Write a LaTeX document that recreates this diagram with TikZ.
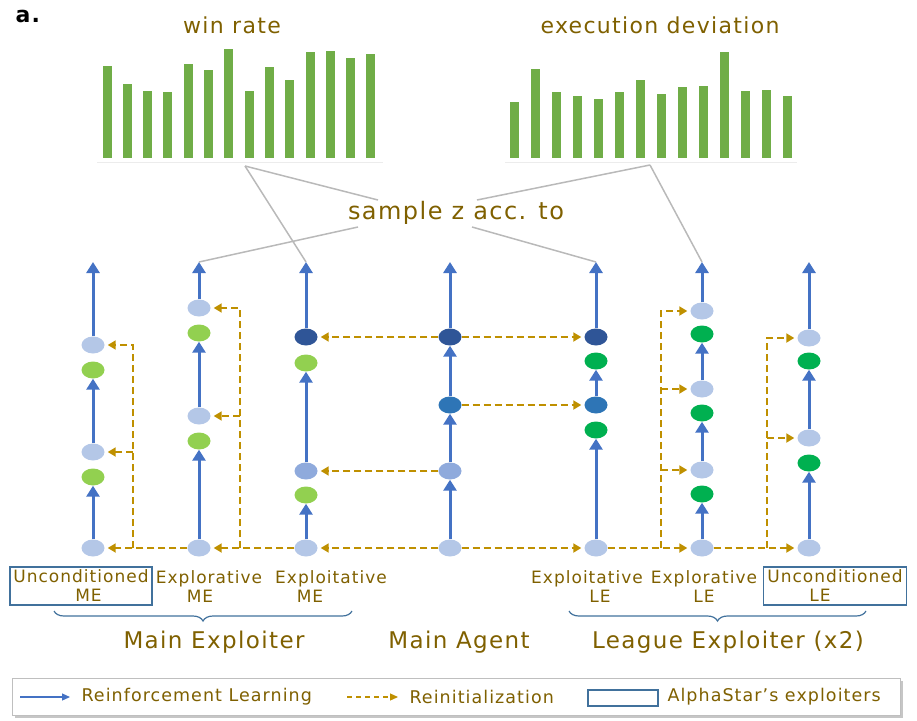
\documentclass[tikz,border=0pt]{standalone}
\usepackage{fontspec}
\setmainfont{DejaVu Sans}[LetterSpace=6]
\usetikzlibrary{shapes.geometric,arrows.meta,decorations.pathreplacing}
\definecolor{rlblue}{HTML}{4472C4}
\definecolor{lblue}{HTML}{B4C7E7}
\definecolor{mblue}{HTML}{8FAADC}
\definecolor{bblue}{HTML}{2E75B6}
\definecolor{dblue}{HTML}{2F5597}
\definecolor{megreen}{HTML}{92D050}
\definecolor{legreen}{HTML}{00B050}
\definecolor{bargreen}{HTML}{70AD47}
\definecolor{gold}{HTML}{BF9000}
\definecolor{txt}{HTML}{7F6000}
\definecolor{boxblue}{HTML}{41719C}

\begin{document}
\begin{tikzpicture}[x=1pt,y=-1pt]
\tikzstyle{every node}=[font=\fontsize{17}{19}\selectfont,text=txt]
\tikzstyle{big}=[font=\fontsize{22}{26}\selectfont]
\tikzstyle{grp}=[font=\fontsize{23}{26}\selectfont]
\tikzstyle{pol}=[ellipse,minimum width=23pt,minimum height=17pt,inner sep=0pt]
\tikzstyle{lb}=[pol,fill=lblue]
\tikzstyle{mb}=[pol,fill=mblue]
\tikzstyle{bb}=[pol,fill=bblue]
\tikzstyle{db}=[pol,fill=dblue]
\tikzstyle{mg}=[pol,fill=megreen]
\tikzstyle{lg}=[pol,fill=legreen]
\tikzstyle{rl}=[rlblue,line width=3pt,-{Triangle[width=13pt,length=11pt]}]
\tikzstyle{ri}=[gold,line width=1.8pt,dash pattern=on 7pt off 4pt,-{Triangle[width=9pt,length=8pt]},shorten >=3pt]
\tikzstyle{link}=[gray!55,line width=1.5pt]
\tikzstyle{brace}=[boxblue,line width=1.2pt,decoration={brace,mirror,amplitude=10pt},decorate]
\tikzstyle{expbox}=[draw=boxblue,line width=1.2pt,align=center,inner sep=1pt]

\useasboundingbox (0,0) rectangle (917,720);

\node[anchor=west,text=black,font=\bfseries\fontsize{22}{26}\selectfont] (lbl) at (12,16) {a.};

% bar charts
\node[big] (wrt) at (232,25) {win rate};
\node[big] (edt) at (660,25) {execution deviation};
\draw[gray!15] (97,162) -- (383,162);
\draw[gray!15] (505,162) -- (797,162);
\foreach \h [count=\i] in {66,84,91,92,64,70,49,91,67,80,52,51,58,54}
  \fill[bargreen] ({102.5+(\i-1)*20.3},158) rectangle ({111.5+(\i-1)*20.3},\h);
\foreach \h [count=\i] in {102,69,92,96,99,92,80,94,87,86,52,91,90,96}
  \fill[bargreen] ({509.5+(\i-1)*21},158) rectangle ({518.5+(\i-1)*21},\h);

\node[font=\fontsize{24}{28}\selectfont] (smp) at (456,213) {sample z acc. to};

% column tops
\coordinate (t1) at (93,262);
\coordinate (t2) at (199,262);
\coordinate (t3) at (306,262);
\coordinate (t4) at (450,262);
\coordinate (t5) at (596,262);
\coordinate (t6) at (702,262);
\coordinate (t7) at (809,262);

\coordinate (wr) at (245,166);
\coordinate (ed) at (650,165);
\coordinate (s1) at (378,200);
\coordinate (s2) at (358,227);
\coordinate (s3) at (477,200);
\coordinate (s4) at (472,227);
\draw[link] (wr) -- (s1);
\draw[link] (wr) -- (t3);
\draw[link] (s2) -- (t2);
\draw[link] (ed) -- (s3);
\draw[link] (ed) -- (t6);
\draw[link] (s4) -- (t5);

% policies
\node[lb] (c1a) at (93,548) {};
\node[mg] (c1b) at (93,477) {};
\node[lb] (c1c) at (93,452) {};
\node[mg] (c1d) at (93,370) {};
\node[lb] (c1e) at (93,345) {};

\node[lb] (c2a) at (199,548) {};
\node[mg] (c2b) at (199,441) {};
\node[lb] (c2c) at (199,416) {};
\node[mg] (c2d) at (199,333) {};
\node[lb] (c2e) at (199,308) {};

\node[lb] (c3a) at (306,548) {};
\node[mg] (c3b) at (306,495) {};
\node[mb] (c3c) at (306,471) {};
\node[mg] (c3d) at (306,363) {};
\node[db] (c3e) at (306,337) {};

\node[lb] (c4a) at (450,548) {};
\node[mb] (c4b) at (450,471) {};
\node[bb] (c4c) at (450,405) {};
\node[db] (c4d) at (450,337) {};

\node[lb] (c5a) at (596,548) {};
\node[lg] (c5b) at (596,430) {};
\node[bb] (c5c) at (596,405) {};
\node[lg] (c5d) at (596,361) {};
\node[db] (c5e) at (596,337) {};

\node[lb] (c6a) at (702,548) {};
\node[lg] (c6b) at (702,494) {};
\node[lb] (c6c) at (702,470) {};
\node[lg] (c6d) at (702,413) {};
\node[lb] (c6e) at (702,389) {};
\node[lg] (c6f) at (702,334) {};
\node[lb] (c6g) at (702,311) {};

\node[lb] (c7a) at (809,548) {};
\node[lg] (c7b) at (809,463) {};
\node[lb] (c7c) at (809,438) {};
\node[lg] (c7d) at (809,361) {};
\node[lb] (c7e) at (809,338) {};

% reinforcement learning
\draw[rl] (c1a) -- (c1b);
\draw[rl] (c1c) -- (c1d);
\draw[rl] (c1e) -- (t1);
\draw[rl] (c2a) -- (c2b);
\draw[rl] (c2c) -- (c2d);
\draw[rl] (c2e) -- (t2);
\draw[rl] (c3a) -- (c3b);
\draw[rl] (c3c) -- (c3d);
\draw[rl] (c3e) -- (t3);
\draw[rl] (c4a) -- (c4b);
\draw[rl] (c4b) -- (c4c);
\draw[rl] (c4c) -- (c4d);
\draw[rl] (c4d) -- (t4);
\draw[rl] (c5a) -- (c5b);
\draw[rl] (c5c) -- (c5d);
\draw[rl] (c5e) -- (t5);
\draw[rl] (c6a) -- (c6b);
\draw[rl] (c6c) -- (c6d);
\draw[rl] (c6e) -- (c6f);
\draw[rl] (c6g) -- (t6);
\draw[rl] (c7a) -- (c7b);
\draw[rl] (c7c) -- (c7d);
\draw[rl] (c7e) -- (t7);

% reinitialization
\coordinate (k1) at (133,548);
\coordinate (k2) at (240,548);
\coordinate (k6) at (661,548);
\coordinate (k7) at (767,548);
\draw[ri] (c4a) -- (c3a);
\draw[ri] (c3a) -- (c2a);
\draw[ri] (c2a) -- (c1a);
\draw[ri] (c4a) -- (c5a);
\draw[ri] (c5a) -- (c6a);
\draw[ri] (c6a) -- (c7a);
\draw[ri] (k1) |- (c1e);
\draw[ri] (k1 |- c1c) -- (c1c);
\draw[ri] (k2) |- (c2e);
\draw[ri] (k2 |- c2c) -- (c2c);
\draw[ri] (c4d) -- (c3e);
\draw[ri] (c4b) -- (c3c);
\draw[ri] (c4d) -- (c5e);
\draw[ri] (c4c) -- (c5c);
\draw[ri] (k6) |- (c6g);
\draw[ri] (k6 |- c6e) -- (c6e);
\draw[ri] (k6 |- c6c) -- (c6c);
\draw[ri] (k7) |- (c7e);
\draw[ri] (k7 |- c7c) -- (c7c);

% labels
\node[expbox,minimum width=142pt,minimum height=38pt] (lu) at (81,586) {Unconditioned\\\hspace*{15pt}ME};
\node[align=center] (lx) at (209,587) {Explorative\\\hspace*{-18pt}ME};
\node[align=center] (ly) at (331,587) {Exploitative\\\hspace*{-42pt}ME};
\node[align=center] (ry) at (587,587) {Exploitative\\\hspace*{26pt}LE};
\node[align=center] (rx) at (704,587) {Explorative\\LE};
\node[expbox,minimum width=143pt,minimum height=38pt] (ru) at (835,586) {Unconditioned\\\hspace*{-30pt}LE};

\coordinate (me1) at (54,611);
\coordinate (me2) at (352,611);
\coordinate (le1) at (569,611);
\coordinate (le2) at (866,611);
\draw[brace] (me1) -- (me2);
\draw[brace] (le1) -- (le2);

\node[grp] (mex) at (214,642) {Main Exploiter};
\node[grp] (mag) at (459,642) {Main Agent};
\node[grp] (lex) at (728,642) {League Exploiter (x2)};

% legend
\fill[gray!45] (15,681) rectangle (903,718);
\node[draw=gray!50,fill=white,minimum width=888pt,minimum height=37pt,inner sep=0pt] (leg) at (456,696.5) {};
\coordinate (l1) at (20,697);
\coordinate (l2) at (70,697);
\coordinate (l3) at (347,697);
\coordinate (l4) at (398,697);
\draw[rlblue,line width=1.2pt,-{Triangle[width=7pt,length=8pt]}] (l1) -- (l2);
\node[anchor=west,font=\fontsize{17.5}{20}\selectfont] (lrl) at (78,697) {Reinforcement Learning};
\draw[gold,line width=1.2pt,dash pattern=on 5pt off 4pt,-{Triangle[width=7pt,length=8pt]}] (l3) -- (l4);
\node[anchor=west,font=\fontsize{17.5}{20}\selectfont] (lri) at (406,697) {Reinitialization};
\node[draw=boxblue,line width=1.2pt,minimum width=70pt,minimum height=16pt,inner sep=0pt] (lbx) at (623,698) {};
\node[anchor=west,font=\fontsize{17.5}{20}\selectfont] (lae) at (664,697) {AlphaStar's exploiters};

\end{tikzpicture}
\end{document}
